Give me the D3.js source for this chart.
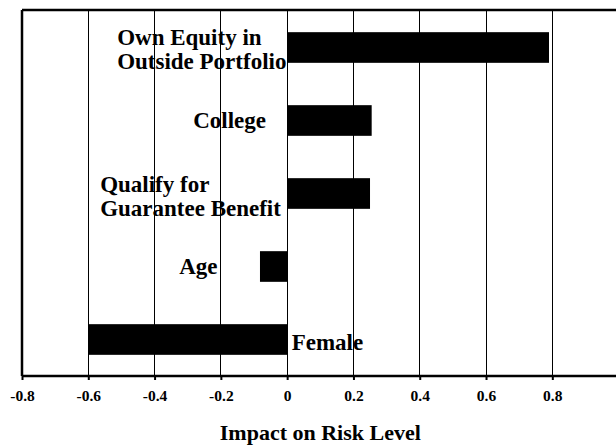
<!DOCTYPE html>
<html>
<head>
<meta charset="utf-8">
<script src="https://cdn.jsdelivr.net/npm/d3@7"></script>
<style>
  html, body { margin: 0; padding: 0; background: #fff; }
  svg { display: block; }
  text { font-family: "Liberation Serif", "Times New Roman", serif; font-weight: bold; fill: #000; }
</style>
</head>
<body>
<div id="app"></div>
<script>
// data
let factors = ["Own Equity in\nOutside Portfolio", "College", "Qualify for\nGuarantee Benefit", "Age", "Female"]
let impact = [0.79, 0.255, 0.25, -0.082, -0.60]
let tickValues = [-0.8, -0.6, -0.4, -0.2, 0, 0.2, 0.4, 0.6, 0.8]
let gridValues = [-0.6, -0.4, -0.2, 0, 0.2, 0.4, 0.6, 0.8, 1.0]
let axisTitle = "Impact on Risk Level"

// label placement (offset from zero line, baseline offset from bar centre)
let labelDx = [-170, -94, -187, -108, 4.5]
let labelDy = [-3, 7, -2, 7, 10]

let width = 616, height = 446
let svg = d3.select("#app").append("svg")
    .attr("width", width)
    .attr("height", height)

let x = d3.scaleLinear().domain([-0.8, 1.0]).range([22, 618.6])
let y = d3.scaleBand().domain(factors).range([11, 376])
    .paddingInner(0.58).paddingOuter(0.29)

let rows = factors.map((f, i) => ({name: f, value: impact[i], dx: labelDx[i], dy: labelDy[i]}))

// gridlines
svg.append("g").selectAll("line")
    .data(gridValues)
    .enter().append("line")
    .attr("x1", d => x(d)).attr("x2", d => x(d))
    .attr("y1", 10).attr("y2", 376)
    .attr("stroke", "#000").attr("stroke-width", 1)
    .attr("shape-rendering", "crispEdges")

// bars
svg.append("g").selectAll("rect")
    .data(rows)
    .enter().append("rect")
    .attr("x", d => x(Math.min(0, d.value)))
    .attr("width", d => Math.abs(x(d.value) - x(0)))
    .attr("y", d => y(d.name))
    .attr("height", y.bandwidth())
    .attr("fill", "#000")

// frame: top and left borders
svg.append("line")
    .attr("x1", x(-0.8)).attr("x2", width)
    .attr("y1", 10).attr("y2", 10)
    .attr("stroke", "#000").attr("stroke-width", 2.5)
svg.append("line")
    .attr("x1", x(-0.8)).attr("x2", x(-0.8))
    .attr("y1", 10).attr("y2", 376)
    .attr("stroke", "#000").attr("stroke-width", 2.5)

// x axis
let xAxis = d3.axisBottom(x)
    .tickValues(tickValues)
    .tickSize(4)
    .tickPadding(10)
    .tickFormat(d => d === 0 ? "0" : d.toFixed(1))

let gx = svg.append("g")
    .attr("transform", "translate(0,376)")
    .call(xAxis)
gx.select(".domain").remove()
gx.append("line")
    .attr("x1", x(-0.8)).attr("x2", width)
    .attr("stroke", "#000").attr("stroke-width", 2.5)
gx.selectAll(".tick line").attr("stroke", "#000").attr("stroke-width", 2)
gx.selectAll(".tick text")
    .attr("font-family", "'Liberation Serif', serif")
    .attr("font-weight", "bold")
    .attr("font-size", 15.5)
    .attr("fill", "#000")

// axis title
svg.append("text")
    .attr("x", (x(-0.8) + x(1.0)) / 2)
    .attr("y", 440)
    .attr("text-anchor", "middle")
    .attr("font-size", 22)
    .text(axisTitle)

// category labels
let labels = svg.append("g").selectAll("text")
    .data(rows)
    .enter().append("text")
    .attr("font-size", 23)
    .attr("y", d => y(d.name) + y.bandwidth() / 2 + d.dy)

labels.selectAll("tspan")
    .data(d => d.name.split("\n").map((t, i) => ({t: t, i: i, d: d})))
    .enter().append("tspan")
    .attr("x", e => x(0) + e.d.dx)
    .attr("dy", e => e.i === 0 ? 0 : 24)
    .text(e => e.t)
</script>
</body>
</html>
